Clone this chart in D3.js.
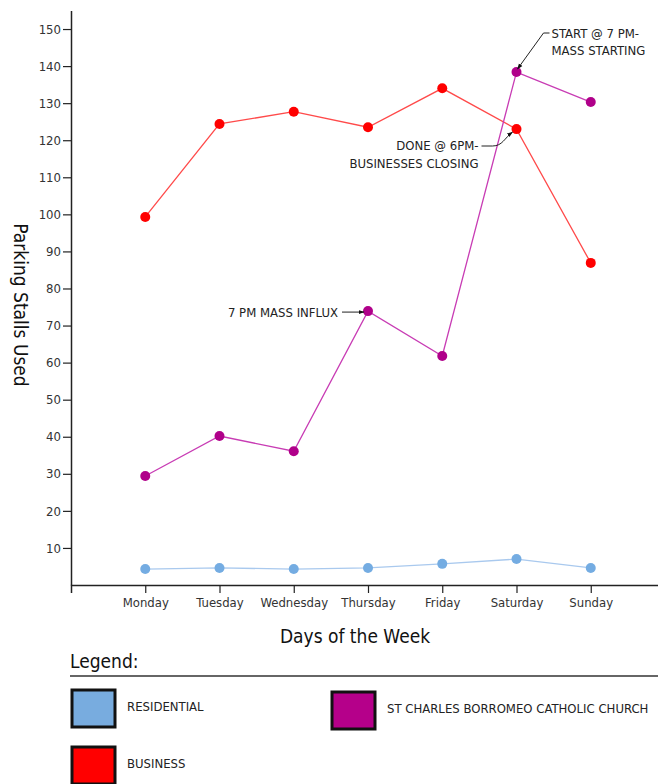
<!DOCTYPE html>
<html>
<head>
<meta charset="utf-8">
<script src="https://cdn.jsdelivr.net/npm/d3@7"></script>
<style>
  body { margin: 0; background: #fff; }
  svg { display: block; font-family: "DejaVu Sans Condensed", "DejaVu Sans", sans-serif; font-stretch: condensed; }
</style>
</head>
<body>
<div id="chart"></div>
<script>
const days = ["Monday", "Tuesday", "Wednesday", "Thursday", "Friday", "Saturday", "Sunday"]
const residential = [4.3, 4.6, 4.3, 4.6, 5.7, 7.0, 4.6]
const business = [99.3, 124.4, 127.7, 123.5, 134.0, 123.0, 86.9]
const church = [29.4, 40.2, 36.1, 73.9, 61.8, 138.4, 130.3]
const yTicks = [10, 20, 30, 40, 50, 60, 70, 80, 90, 100, 110, 120, 130, 140, 150]

const series = [
  { name: "RESIDENTIAL", values: residential, line: "#a9c9ee", dot: "#74ace2", swatch: "#78acdf" },
  { name: "BUSINESS", values: business, line: "#ff4a4a", dot: "#ff0000", swatch: "#ff0000" },
  { name: "ST CHARLES BORROMEO CATHOLIC CHURCH", values: church, line: "#c83cb4", dot: "#b0008a", swatch: "#b5008a" }
]

const width = 658, height = 784
const FONT = "DejaVu Sans Condensed, DejaVu Sans, sans-serif"

const svg = d3.select("#chart").append("svg")
  .attr("width", width).attr("height", height)

const defs = svg.append("defs")
defs.append("marker")
  .attr("id", "arrow")
  .attr("viewBox", "0 0 10 10")
  .attr("refX", 9).attr("refY", 5)
  .attr("markerWidth", 6).attr("markerHeight", 6)
  .attr("orient", "auto")
  .append("path")
  .attr("d", "M0,1.5L10,5L0,8.5Z")
  .attr("fill", "#111")

const x = d3.scalePoint().domain(days).range([71, 665]).padding(1)
const y = d3.scaleLinear().domain([0, 155]).range([585, 10.5])

// y axis
const yAxis = svg.append("g")
  .attr("transform", "translate(71,0)")
  .call(d3.axisLeft(y).tickValues(yTicks).tickSize(8).tickSizeOuter(0).tickPadding(2))
yAxis.select(".domain").attr("stroke", "#222").attr("stroke-width", 1.5)
yAxis.selectAll(".tick line").attr("stroke", "#222").attr("stroke-width", 1.2)
yAxis.selectAll(".tick text").attr("font-size", 13).attr("fill", "#333")
  .attr("font-family", FONT)

// x axis
const xAxis = svg.append("g")
  .attr("transform", "translate(0,585)")
  .call(d3.axisBottom(x).tickSize(8).tickSizeOuter(8).tickPadding(5))
xAxis.select(".domain").attr("stroke", "#222").attr("stroke-width", 1.5)
xAxis.selectAll(".tick line").attr("stroke", "#222").attr("stroke-width", 1.2)
xAxis.selectAll(".tick text").attr("font-size", 13).attr("fill", "#333")
  .attr("font-family", FONT)

// axis titles
svg.append("text")
  .attr("x", 355).attr("y", 643)
  .attr("text-anchor", "middle")
  .attr("font-size", 19).attr("fill", "#111")
  .text("Days of the Week")

svg.append("text")
  .attr("transform", "translate(14,305) rotate(90)")
  .attr("text-anchor", "middle")
  .attr("font-size", 19).attr("fill", "#111")
  .text("Parking Stalls Used")

// lines and dots
const line = d3.line().x((d, i) => x(days[i])).y(d => y(d))

series.forEach(s => {
  svg.append("path")
    .datum(s.values)
    .attr("d", line)
    .attr("fill", "none")
    .attr("stroke", s.line)
    .attr("stroke-width", 1.3)
})

series.forEach(s => {
  svg.append("g")
    .selectAll("circle")
    .data(s.values)
    .join("circle")
    .attr("cx", (d, i) => x(days[i]))
    .attr("cy", d => y(d))
    .attr("r", 5)
    .attr("fill", s.dot)
})

// annotations
const ann = svg.append("g")
  .attr("font-size", 13).attr("fill", "#222")

const satX = x("Saturday"), thuX = x("Thursday")

// START @ 7 PM
const pStart = [satX, y(church[5])]
ann.append("path")
  .attr("d", `M${pStart[0] + 33},33 H${pStart[0] + 27} L${pStart[0] + 1},${pStart[1] - 3}`)
  .attr("fill", "none").attr("stroke", "#222").attr("stroke-width", 1)
  .attr("marker-end", "url(#arrow)")
ann.append("text").attr("x", pStart[0] + 35).attr("y", 38).text("START @ 7 PM-")
ann.append("text").attr("x", pStart[0] + 35).attr("y", 55).text("MASS STARTING")

// DONE @ 6PM
const pDone = [satX, y(business[5])]
ann.append("path")
  .attr("d", `M${pDone[0] - 35},146 H${pDone[0] - 24} C${pDone[0] - 14},146 ${pDone[0] - 12},138 ${pDone[0] - 4},${pDone[1] + 3}`)
  .attr("fill", "none").attr("stroke", "#222").attr("stroke-width", 1)
  .attr("marker-end", "url(#arrow)")
ann.append("text").attr("x", pDone[0] - 38).attr("y", 150).attr("text-anchor", "end").text("DONE @ 6PM-")
ann.append("text").attr("x", pDone[0] - 38).attr("y", 168).attr("text-anchor", "end").text("BUSINESSES CLOSING")

// 7 PM MASS INFLUX
const pInflux = [thuX, y(church[3])]
ann.append("path")
  .attr("d", `M${pInflux[0] - 26},${pInflux[1] + 1} H${pInflux[0] - 4}`)
  .attr("fill", "none").attr("stroke", "#222").attr("stroke-width", 1)
  .attr("marker-end", "url(#arrow)")
ann.append("text").attr("x", pInflux[0] - 30).attr("y", pInflux[1] + 5.5)
  .attr("text-anchor", "end").text("7 PM MASS INFLUX")

// legend
svg.append("text")
  .attr("x", 70).attr("y", 668)
  .attr("font-size", 19).attr("fill", "#111")
  .text("Legend:")
svg.append("line")
  .attr("x1", 70).attr("x2", 658).attr("y1", 676).attr("y2", 676)
  .attr("stroke", "#333").attr("stroke-width", 1.5)

const legendPos = [[72, 690], [72, 747], [332, 692]]
series.forEach((s, i) => {
  const [lx, ly] = legendPos[i]
  svg.append("rect")
    .attr("x", lx).attr("y", ly)
    .attr("width", 43).attr("height", 37)
    .attr("fill", s.swatch)
    .attr("stroke", "#111").attr("stroke-width", 3)
  svg.append("text")
    .attr("x", lx + 55).attr("y", ly + 21)
    .attr("font-size", 13).attr("fill", "#222")
    .text(s.name)
})
</script>
</body>
</html>
